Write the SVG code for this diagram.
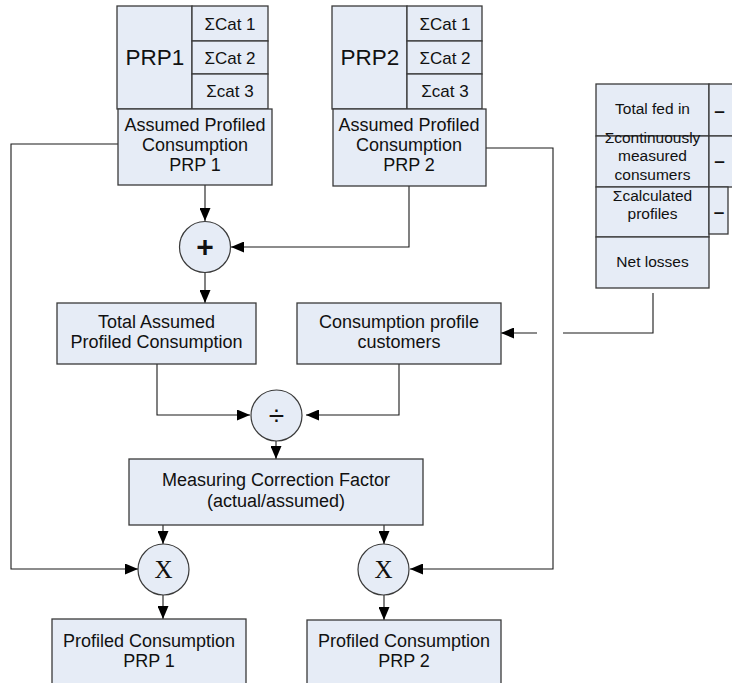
<svg xmlns="http://www.w3.org/2000/svg" width="732" height="683" viewBox="0 0 732 683">
  <style>
    .box { fill: #e6ecf6; stroke: #3a3a3a; stroke-width: 1.3; }
    .op { fill: #e6ecf6; stroke: #3a3a3a; stroke-width: 1.2; }
    .t { font-family: "Liberation Sans", Arial, sans-serif; font-size: 18px; fill: #111; text-anchor: middle; }
    .big { font-family: "Liberation Sans", Arial, sans-serif; font-size: 22.5px; fill: #111; text-anchor: middle; }
    .cat { font-family: "Liberation Sans", Arial, sans-serif; font-size: 17px; fill: #111; text-anchor: middle; }
    .s { font-family: "Liberation Sans", Arial, sans-serif; font-size: 15.5px; fill: #111; text-anchor: middle; }
    .minus { font-family: "Liberation Sans", Arial, sans-serif; font-size: 19px; font-weight: bold; fill: #111; text-anchor: middle; }
    .sym { font-family: "Liberation Sans", Arial, sans-serif; fill: #111; text-anchor: middle; }
    .x { font-family: "Liberation Serif", "Times New Roman", serif; font-size: 25px; fill: #111; text-anchor: middle; }
    .c { fill: none; stroke: #1a1a1a; stroke-width: 1.1; }
  </style>
  <defs>
    <marker id="arr" markerUnits="userSpaceOnUse" markerWidth="14" markerHeight="11" refX="13" refY="5.5" orient="auto">
      <path d="M0,0 L13,5.5 L0,11 z" fill="#000"/>
    </marker>
  </defs>

  <!-- connectors -->
  <g id="connectors">
    <path class="c" d="M205,185 L205,221" marker-end="url(#arr)"/>
    <path class="c" d="M409,186 L409,247 L231,247" marker-end="url(#arr)"/>
    <path class="c" d="M205,273 L205,303" marker-end="url(#arr)"/>
    <path class="c" d="M157,364 L157,415 L250,415" marker-end="url(#arr)"/>
    <path class="c" d="M399,364 L399,415 L306,415" marker-end="url(#arr)"/>
    <path class="c" d="M276,441 L276,459" marker-end="url(#arr)"/>
    <path class="c" d="M163,525 L163,544" marker-end="url(#arr)"/>
    <path class="c" d="M384,525 L384,544" marker-end="url(#arr)"/>
    <path class="c" d="M118,144 L11,144 L11,569 L138,569" marker-end="url(#arr)"/>
    <path class="c" d="M486,148 L553,148 L553,569 L410,569" marker-end="url(#arr)"/>
    <path class="c" d="M163,595 L163,619" marker-end="url(#arr)"/>
    <path class="c" d="M384,595 L384,620" marker-end="url(#arr)"/>
    <path class="c" d="M653,293 L653,333 L563,333"/>
    <path class="c" d="M537,333 L501,333" marker-end="url(#arr)"/>
  </g>

  <!-- PRP 1 summary block -->
  <g id="prp1">
    <rect class="box" x="117" y="6" width="75" height="103"/>
    <rect class="box" x="192" y="6" width="76" height="35"/>
    <rect class="box" x="192" y="41" width="76" height="33"/>
    <rect class="box" x="192" y="74" width="76" height="35"/>
    <text class="big" x="155" y="65">PRP1</text>
    <text class="cat" x="230" y="30">ΣCat 1</text>
    <text class="cat" x="230" y="64">ΣCat 2</text>
    <text class="cat" x="230" y="97">Σcat 3</text>
  </g>
  <g id="assumed1">
    <rect class="box" x="118" y="109" width="154" height="76"/>
    <text class="t" x="195" y="131">Assumed Profiled</text>
    <text class="t" x="195" y="151">Consumption</text>
    <text class="t" x="195" y="171">PRP 1</text>
  </g>

  <!-- PRP 2 summary block -->
  <g id="prp2">
    <rect class="box" x="332" y="6" width="75" height="103"/>
    <rect class="box" x="407" y="6" width="75" height="35"/>
    <rect class="box" x="407" y="41" width="75" height="33"/>
    <rect class="box" x="407" y="74" width="75" height="35"/>
    <text class="big" x="370" y="65">PRP2</text>
    <text class="cat" x="445" y="30">ΣCat 1</text>
    <text class="cat" x="445" y="64">ΣCat 2</text>
    <text class="cat" x="445" y="97">Σcat 3</text>
  </g>
  <g id="assumed2">
    <rect class="box" x="333" y="109" width="153" height="77"/>
    <text class="t" x="409" y="131">Assumed Profiled</text>
    <text class="t" x="409" y="151">Consumption</text>
    <text class="t" x="409" y="171">PRP 2</text>
  </g>

  <!-- net losses table -->
  <g id="losses">
    <rect class="box" x="596" y="84" width="113" height="52"/>
    <rect class="box" x="596" y="136" width="113" height="51"/>
    <rect class="box" x="596" y="187" width="113" height="50"/>
    <rect class="box" x="596" y="237" width="113" height="51"/>
    <rect class="box" x="709" y="84" width="24" height="52"/>
    <rect class="box" x="709" y="136" width="24" height="51"/>
    <rect class="box" x="709" y="187" width="19" height="47"/>
    <text class="s" x="652.5" y="114">Total fed in</text>
    <text class="s" x="652.5" y="143">Σcontinuously</text>
    <text class="s" x="652.5" y="161">measured</text>
    <text class="s" x="652.5" y="180">consumers</text>
    <text class="s" x="652.5" y="201">Σcalculated</text>
    <text class="s" x="652.5" y="219">profiles</text>
    <text class="s" x="652.5" y="267">Net losses</text>
    <text class="minus" x="719.5" y="117">–</text>
    <text class="minus" x="719.5" y="167">–</text>
    <text class="minus" x="719" y="218">–</text>
  </g>

  <!-- operators -->
  <g id="plus">
    <circle class="op" cx="205" cy="247" r="25.5"/>
    <text class="sym" x="205" y="256.5" font-size="30" font-weight="bold">+</text>
  </g>
  <g id="divide">
    <circle class="op" cx="276.5" cy="415.5" r="25.5"/>
    <text class="sym" x="276.5" y="425" font-size="28">÷</text>
  </g>
  <g id="mult1">
    <circle class="op" cx="163.5" cy="569.5" r="25.5"/>
    <text class="x" x="163.5" y="578">X</text>
  </g>
  <g id="mult2">
    <circle class="op" cx="383.5" cy="569.5" r="25.5"/>
    <text class="x" x="383.5" y="578">X</text>
  </g>

  <!-- intermediate results -->
  <g id="total-assumed">
    <rect class="box" x="57" y="303" width="199" height="61"/>
    <text class="t" x="156.5" y="328">Total Assumed</text>
    <text class="t" x="156.5" y="348">Profiled Consumption</text>
  </g>
  <g id="profile-customers">
    <rect class="box" x="297" y="303" width="204" height="61"/>
    <text class="t" x="399" y="328">Consumption profile</text>
    <text class="t" x="399" y="348">customers</text>
  </g>
  <g id="correction">
    <rect class="box" x="129" y="459" width="294" height="66"/>
    <text class="t" x="276" y="486">Measuring Correction Factor</text>
    <text class="t" x="276" y="507">(actual/assumed)</text>
  </g>

  <!-- results -->
  <g id="result1">
    <rect class="box" x="52" y="619" width="194" height="80"/>
    <text class="t" x="149" y="647">Profiled Consumption</text>
    <text class="t" x="149" y="667">PRP 1</text>
  </g>
  <g id="result2">
    <rect class="box" x="307" y="620" width="194" height="80"/>
    <text class="t" x="404" y="647">Profiled Consumption</text>
    <text class="t" x="404" y="667">PRP 2</text>
  </g>
</svg>
